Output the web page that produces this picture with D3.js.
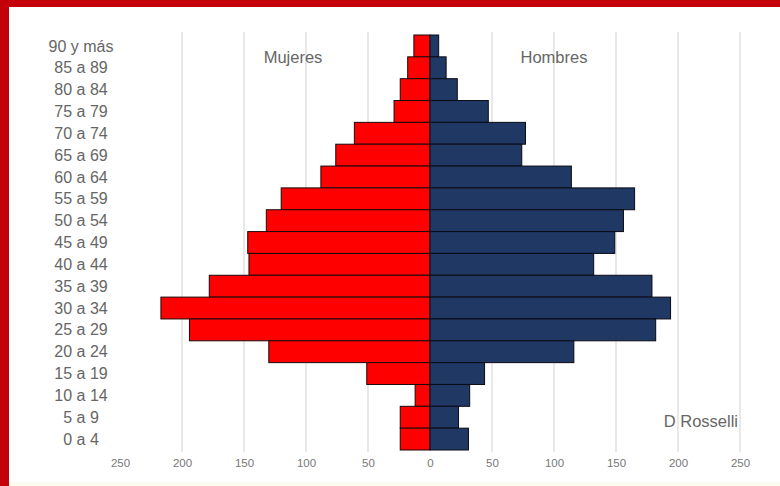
<!DOCTYPE html>
<html>
<head>
<meta charset="utf-8">
<script src="https://cdn.jsdelivr.net/npm/d3@7"></script>
<style>
  html, body { margin: 0; padding: 0; background: #ffffff; }
  svg { display: block; font-family: "Liberation Sans", Arial, sans-serif; }
</style>
</head>
<body>
<script>
const categories = ["90 y más","85 a 89","80 a 84","75 a 79","70 a 74","65 a 69","60 a 64","55 a 59","50 a 54","45 a 49","40 a 44","35 a 39","30 a 34","25 a 29","20 a 24","15 a 19","10 a 14","5 a 9","0 a 4"];
const mujeres = [13, 18, 24, 29, 61, 76, 88, 120, 132, 147, 146, 178, 217, 194, 130, 51, 12, 24, 24];
const hombres = [7, 13, 22, 47, 77, 74, 114, 165, 156, 149, 132, 179, 194, 182, 116, 44, 32, 23, 31];
const tickValues = [-250, -200, -150, -100, -50, 0, 50, 100, 150, 200, 250];
const gridValues = [-200, -150, -100, -50, 50, 100, 150, 200, 250];

const W = 780, H = 486;
const svg = d3.select("body").append("svg").attr("width", W).attr("height", H);

// background and red frame
svg.append("rect").attr("x", 0).attr("y", 0).attr("width", W).attr("height", H).attr("fill", "#ffffff");
svg.append("rect").attr("x", 0).attr("y", H - 4).attr("width", W).attr("height", 4).attr("fill", "#fdfbef");
svg.append("rect").attr("x", 0).attr("y", 0).attr("width", W).attr("height", 7).attr("fill", "#c4000b");
svg.append("rect").attr("x", 0).attr("y", 0).attr("width", 9).attr("height", H).attr("fill", "#c4000b");

const x = d3.scaleLinear().domain([-250, 250]).range([120, 740]);
const y = d3.scaleBand().domain(categories).range([35, 450]).padding(0);

// gridlines
svg.append("g").selectAll("line").data(gridValues).join("line")
  .attr("x1", d => x(d)).attr("x2", d => x(d))
  .attr("y1", 32).attr("y2", 452)
  .attr("stroke", "#dcdcdc").attr("stroke-width", 1.3);

// bars
const rows = categories.map((c, i) => ({ c, m: mujeres[i], h: hombres[i] }));
svg.append("g").selectAll("rect").data(rows).join("rect")
  .attr("x", d => x(-d.m)).attr("width", d => x(0) - x(-d.m))
  .attr("y", d => y(d.c)).attr("height", y.bandwidth())
  .attr("fill", "#ff0000").attr("stroke", "#1a0a0a").attr("stroke-width", 1);
svg.append("g").selectAll("rect").data(rows).join("rect")
  .attr("x", x(0)).attr("width", d => x(d.h) - x(0))
  .attr("y", d => y(d.c)).attr("height", y.bandwidth())
  .attr("fill", "#1f3864").attr("stroke", "#0a0a14").attr("stroke-width", 1);

// category labels
svg.append("g").selectAll("text").data(categories).join("text")
  .attr("x", 81).attr("y", d => y(d) + y.bandwidth() / 2)
  .attr("dy", "0.35em").attr("text-anchor", "middle")
  .attr("font-size", 16).attr("fill", "#666")
  .text(d => d);

// x tick labels
const xAxis = d3.axisBottom(x).tickValues(tickValues).tickSize(0).tickFormat(d => Math.abs(d));
const ax = svg.append("g").attr("transform", "translate(0,456)").call(xAxis);
ax.select(".domain").remove();
ax.selectAll("text").attr("font-size", 11.5).attr("fill", "#777")
  .attr("font-family", "'Liberation Sans', Arial, sans-serif");

// series titles
svg.append("text").attr("x", 293).attr("y", 63).attr("text-anchor", "middle")
  .attr("font-size", 16.5).attr("fill", "#666").text("Mujeres");
svg.append("text").attr("x", 554).attr("y", 63).attr("text-anchor", "middle")
  .attr("font-size", 16.5).attr("fill", "#666").text("Hombres");

// signature
svg.append("text").attr("x", 738).attr("y", 427).attr("text-anchor", "end")
  .attr("font-size", 16.5).attr("fill", "#666").text("D Rosselli");
</script>
</body>
</html>
